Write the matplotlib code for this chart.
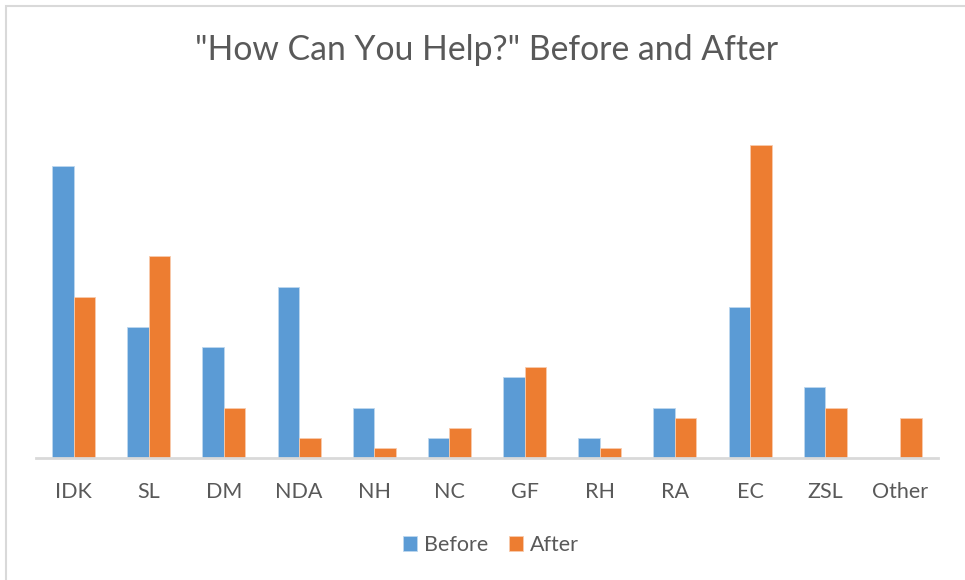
import matplotlib.pyplot as plt
import numpy as np
from matplotlib.patches import Rectangle

plt.rcParams['font.family'] = ['Lato', 'DejaVu Sans']

categories = ["IDK", "SL", "DM", "NDA", "NH", "NC", "GF", "RH", "RA", "EC", "ZSL", "Other"]
before = [29, 13, 11, 17, 5, 2, 8, 2, 5, 15, 7, 0]
after = [16, 20, 5, 2, 1, 3, 9, 1, 4, 31, 5, 4]

blue = "#5B9BD5"
orange = "#ED7D31"
text_gray = "#595959"

fig = plt.figure(figsize=(9.65, 5.8), dpi=100)
ax = fig.add_axes([36 / 965, 122 / 580, 902 / 965, 353 / 580])

x = np.arange(len(categories))
w = 1 / 3.5  # gap width 150%
ax.bar(x - w / 2, before, w, color=blue, label="Before", edgecolor="#BDD7EE", linewidth=0.6)
ax.bar(x + w / 2, after, w, color=orange, label="After", edgecolor="#F8CBAD", linewidth=0.6)

ax.set_xlim(-0.5, len(categories) - 0.5)
ax.set_ylim(0, 35)
ax.set_xticks(x)
ax.set_xticklabels(categories, fontsize=15.5, color=text_gray)
ax.tick_params(axis="x", length=0, pad=17)
ax.set_yticks([])
for side in ["top", "right", "left"]:
    ax.spines[side].set_visible(False)
ax.spines["bottom"].set_color("#D9D9D9")
ax.spines["bottom"].set_linewidth(2)

fig.text(487 / 965, 1 - 50 / 580, '"How Can You Help?" Before and After',
         ha="center", va="center", fontsize=24.3, color=text_gray)

fig.legend(loc="center", bbox_to_anchor=(491 / 965, 1 - 545 / 580), ncol=2,
           frameon=False, fontsize=15.5, labelcolor=text_gray,
           handlelength=0.65, handleheight=0.65, handletextpad=0.3, columnspacing=1.0)

# chart border
fig.patches.append(Rectangle((6 / 965, -0.1), 1.2, 1 - 6 / 580 + 0.1, transform=fig.transFigure,
                             fill=False, edgecolor="#D9D9D9", linewidth=1.5))

fig.savefig("out.png", dpi=100)
